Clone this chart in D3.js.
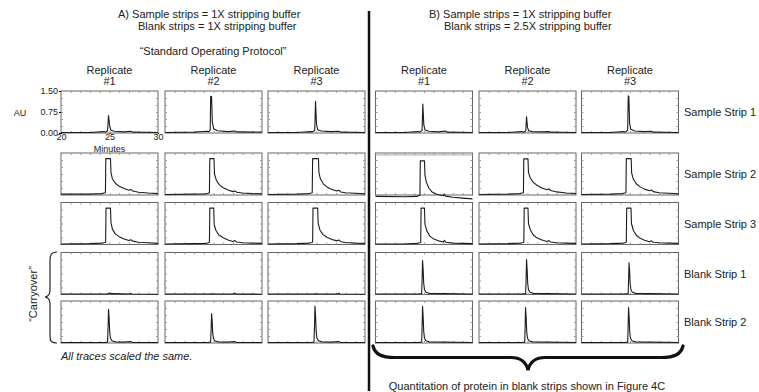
<!DOCTYPE html>
<html>
<head>
<meta charset="utf-8">
<script src="https://cdn.jsdelivr.net/npm/d3@7/dist/d3.min.js"></script>
<style>
body { margin: 0; background: #fff; }
svg { font-family: "Liberation Sans", Arial, sans-serif; }
</style>
</head>
<body>
<svg id="chart" width="759" height="392"></svg>
<script>
// labels
var replicates = ["#1", "#2", "#3"];
var stripNames = ["Sample Strip 1", "Sample Strip 2", "Sample Strip 3", "Blank Strip 1", "Blank Strip 2"];
var auTicks = [0, 0.75, 1.5];
var minuteTicks = [20, 25, 30];
var minorMinutes = [21, 22, 23, 24, 25, 26, 27, 28, 29];
var minorAU = [0.25, 0.5, 0.75, 1, 1.25];

// traces, [minutes, AU], one per replicate
var a_sample1 = [
	[[20,0.02],[23,0.02],[24.45,0.05],[24.6,0.03],[24.8,0.08],[24.9,0.62],[25.02,0.24],[25.15,0.1],[25.5,0.06],[26.5,0.04],[27.2,0.06],[27.4,0.03],[30,0.02]],
	[[20,0.02],[23,0.03],[24.35,0.06],[24.5,0.04],[24.66,0.1],[24.71,1.31],[24.8,1.3],[24.88,0.4],[25.02,0.15],[25.4,0.08],[26.5,0.05],[27.2,0.07],[27.4,0.04],[30,0.03]],
	[[20,0.02],[23,0.02],[24.45,0.05],[24.6,0.04],[24.82,0.1],[24.9,1.13],[25,0.32],[25.12,0.12],[25.5,0.07],[26.5,0.05],[27.3,0.06],[27.5,0.03],[30,0.02]]
];
var a_sample2 = [
	[[20,0.03],[23,0.03],[24.2,0.05],[24.45,0.07],[24.58,0.08],[24.62,1.3],[25.1,1.3],[25.15,0.8],[25.3,0.58],[25.6,0.42],[26,0.31],[26.5,0.23],[27,0.17],[27.2,0.2],[27.4,0.14],[28,0.1],[29,0.07],[30,0.05]],
	[[20,0.02],[23,0.03],[24.2,0.04],[24.45,0.06],[24.58,0.08],[24.62,1.3],[25.05,1.3],[25.1,0.75],[25.3,0.52],[25.6,0.36],[26,0.26],[26.5,0.18],[27,0.12],[27.2,0.14],[27.4,0.1],[28,0.07],[29,0.05],[30,0.04]],
	[[20,0.02],[23,0.03],[24.2,0.05],[24.45,0.07],[24.56,0.08],[24.6,1.3],[25.2,1.3],[25.25,0.8],[25.4,0.58],[25.7,0.4],[26.1,0.28],[26.6,0.2],[27.1,0.14],[27.3,0.17],[27.5,0.11],[28,0.08],[29,0.06],[30,0.04]]
];
var a_sample3 = [
	[[20,0.02],[23,0.03],[24.2,0.05],[24.5,0.07],[24.6,0.08],[24.64,1.3],[25.1,1.3],[25.15,0.78],[25.3,0.55],[25.6,0.38],[26,0.28],[26.5,0.2],[27,0.14],[27.2,0.17],[27.4,0.12],[28,0.08],[29,0.06],[30,0.04]],
	[[20,0.02],[23,0.03],[24.2,0.04],[24.45,0.06],[24.58,0.08],[24.62,1.3],[25.02,1.3],[25.07,0.72],[25.25,0.5],[25.55,0.34],[26,0.24],[26.5,0.16],[27,0.11],[27.2,0.14],[27.4,0.09],[28,0.06],[29,0.05],[30,0.04]],
	[[20,0.02],[23,0.03],[24.2,0.05],[24.5,0.07],[24.6,0.08],[24.64,1.3],[25.12,1.3],[25.17,0.76],[25.35,0.52],[25.65,0.36],[26.1,0.25],[26.6,0.18],[27.1,0.13],[27.3,0.16],[27.5,0.1],[28,0.07],[29,0.05],[30,0.04]]
];
var a_blank1 = [
	[[20,0.02],[24.8,0.02],[24.9,0.04],[25,0.05],[25.15,0.03],[27.1,0.02],[27.2,0.04],[27.3,0.02],[30,0.01]],
	[[20,0.02],[24.7,0.02],[24.8,0.03],[24.9,0.02],[27.1,0.02],[27.2,0.05],[27.3,0.02],[30,0.01]],
	[[20,0.02],[24.8,0.02],[24.9,0.03],[25,0.02],[27.2,0.02],[27.3,0.05],[27.4,0.02],[30,0.01]]
];
var a_blank2 = [
	[[20,0.02],[24.5,0.02],[24.8,0.03],[24.86,0.6],[24.9,1.2],[24.96,0.9],[25.02,0.4],[25.1,0.17],[25.25,0.08],[25.6,0.04],[26.5,0.03],[27.2,0.05],[27.35,0.02],[30,0.02]],
	[[20,0.02],[24.4,0.02],[24.7,0.03],[24.76,0.5],[24.8,1.05],[24.86,0.8],[24.92,0.35],[25,0.15],[25.15,0.07],[25.5,0.04],[26.5,0.03],[27.2,0.05],[27.35,0.02],[30,0.02]],
	[[20,0.02],[24.4,0.02],[24.74,0.03],[24.8,0.65],[24.84,1.32],[24.9,1],[24.96,0.45],[25.04,0.18],[25.2,0.08],[25.55,0.04],[26.5,0.03],[27.3,0.05],[27.45,0.02],[30,0.02]]
];
var b_sample1 = [
	[[20,0.02],[23,0.02],[24.4,0.05],[24.55,0.03],[24.8,0.09],[24.88,1.03],[24.98,0.3],[25.1,0.11],[25.5,0.06],[26.5,0.04],[27.2,0.07],[27.4,0.03],[30,0.02]],
	[[20,0.02],[23,0.02],[24.45,0.05],[24.6,0.03],[24.82,0.07],[24.9,0.58],[25,0.2],[25.12,0.08],[25.5,0.05],[26.5,0.04],[27.2,0.05],[27.4,0.03],[30,0.02]],
	[[20,0.02],[23,0.02],[24.35,0.05],[24.5,0.03],[24.76,0.1],[24.82,1.33],[24.88,1.3],[24.96,0.35],[25.08,0.13],[25.5,0.07],[26.5,0.05],[27.2,0.06],[27.4,0.03],[30,0.02]]
];
var b_sample2 = [
	[[20,-0.05],[23,-0.06],[24.3,-0.05],[24.5,-0.02],[24.58,-0.01],[24.62,1.22],[25.05,1.22],[25.1,0.7],[25.25,0.45],[25.5,0.25],[25.8,0.12],[26.3,0.03],[27,-0.03],[27.1,0.03],[27.2,-0.04],[28,-0.08],[29,-0.11],[30,-0.14]],
	[[20,0.02],[23,0.03],[24.2,0.05],[24.45,0.07],[24.58,0.08],[24.62,1.29],[25.05,1.29],[25.1,0.8],[25.3,0.6],[25.6,0.45],[26,0.34],[26.5,0.25],[27,0.19],[27.2,0.22],[27.4,0.16],[28,0.11],[29,0.07],[30,0.05]],
	[[20,0.02],[23,0.03],[24.2,0.05],[24.45,0.07],[24.58,0.08],[24.62,1.3],[25.12,1.3],[25.17,0.78],[25.35,0.56],[25.65,0.4],[26.05,0.29],[26.5,0.21],[27,0.15],[27.2,0.18],[27.4,0.12],[28,0.08],[29,0.06],[30,0.04]]
];
var b_sample3 = [
	[[20,0.02],[23,0.02],[24.3,0.04],[24.55,0.06],[24.66,0.07],[24.7,1.3],[25.05,1.3],[25.1,0.72],[25.3,0.48],[25.6,0.3],[26,0.2],[26.5,0.13],[27,0.09],[27.1,0.15],[27.25,0.08],[28,0.05],[29,0.04],[30,0.03]],
	[[20,0.02],[23,0.03],[24.3,0.05],[24.55,0.07],[24.62,0.08],[24.66,1.3],[25.05,1.3],[25.1,0.75],[25.3,0.52],[25.6,0.34],[26,0.23],[26.5,0.16],[27,0.11],[27.2,0.14],[27.4,0.09],[28,0.06],[29,0.05],[30,0.04]],
	[[20,0.02],[23,0.03],[24.3,0.05],[24.55,0.07],[24.62,0.08],[24.66,1.3],[25.1,1.3],[25.15,0.75],[25.35,0.5],[25.65,0.33],[26.05,0.22],[26.5,0.15],[27,0.1],[27.2,0.13],[27.4,0.08],[28,0.06],[29,0.05],[30,0.04]]
];
var b_blank1 = [
	[[20,0.02],[24.4,0.02],[24.76,0.03],[24.81,0.6],[24.85,1.21],[24.91,0.9],[24.97,0.4],[25.05,0.17],[25.2,0.08],[25.55,0.04],[27,0.03],[30,0.02]],
	[[20,0.02],[24.4,0.02],[24.81,0.03],[24.86,0.62],[24.9,1.25],[24.96,0.92],[25.02,0.4],[25.1,0.17],[25.25,0.08],[25.6,0.04],[27,0.03],[30,0.02]],
	[[20,0.02],[24.4,0.02],[24.81,0.03],[24.86,0.56],[24.9,1.13],[24.96,0.84],[25.02,0.37],[25.1,0.16],[25.25,0.08],[25.6,0.04],[27,0.03],[30,0.02]]
];
var b_blank2 = [
	[[20,0.02],[24.4,0.02],[24.76,0.03],[24.81,0.65],[24.85,1.31],[24.91,0.95],[24.97,0.42],[25.05,0.18],[25.2,0.08],[25.55,0.04],[27,0.03],[30,0.02]],
	[[20,0.02],[24.4,0.02],[24.71,0.03],[24.76,0.63],[24.8,1.27],[24.86,0.93],[24.92,0.4],[25,0.17],[25.15,0.08],[25.5,0.04],[27,0.03],[30,0.02]],
	[[20,0.02],[24.4,0.02],[24.76,0.03],[24.81,0.63],[24.85,1.27],[24.91,0.93],[24.97,0.4],[25.05,0.17],[25.2,0.08],[25.55,0.04],[27,0.03],[30,0.02]]
];

var groupA = [a_sample1, a_sample2, a_sample3, a_blank1, a_blank2];
var groupB = [b_sample1, b_sample2, b_sample3, b_blank1, b_blank2];

// layout
var rowTop = [91, 153, 202.5, 252.5, 301];
var colA = [61, 165, 268];
var colB = [375.5, 479, 581.5];
var panelW = 97, panelH = 42;

var svg = d3.select("#chart");

var x = d3.scaleLinear().domain([20, 30]).range([0, panelW]);
var y = d3.scaleLinear().domain([0, 1.5]).range([panelH, 0]);
var trace = d3.line().x(function(d) { return x(d[0]); }).y(function(d) { return y(d[1]); });

function add_text(txt, px, py, opts) {
	opts = opts || {};
	return svg.append("text")
		.attr("x", px).attr("y", py)
		.attr("font-size", opts.size || 11)
		.attr("text-anchor", opts.anchor || "start")
		.attr("font-style", opts.style || null)
		.attr("fill", "#222")
		.text(txt);
}

function minor_ticks(g) {
	g.append("g").call(d3.axisTop(x).tickValues(minorMinutes).tickSize(-2).tickFormat(""));
	g.append("g").attr("transform", "translate(0," + panelH + ")")
		.call(d3.axisBottom(x).tickValues(minorMinutes).tickSize(-2).tickFormat(""));
	g.append("g").call(d3.axisLeft(y).tickValues(minorAU).tickSize(-2).tickFormat(""));
	g.append("g").attr("transform", "translate(" + panelW + ",0)")
		.call(d3.axisRight(y).tickValues(minorAU).tickSize(-2).tickFormat(""));
	g.selectAll(".domain").remove();
	g.selectAll(".tick line").attr("stroke", "#999");
}

function draw_panel(px, py, data, odd) {
	var g = svg.append("g").attr("transform", "translate(" + px + "," + py + ")");
	g.append("rect")
		.attr("width", panelW).attr("height", panelH)
		.attr("fill", "none").attr("stroke", "#666").attr("stroke-width", 1);
	minor_ticks(g);
	if (odd) {
		g.append("line").attr("x1", 0).attr("x2", panelW)
			.attr("y1", y(1.43)).attr("y2", y(1.43))
			.attr("stroke", "#aaa").attr("stroke-width", 1);
	}
	g.append("path")
		.attr("d", trace(data))
		.attr("fill", "none").attr("stroke", "#1c1c1c")
		.attr("stroke-width", 1.1).attr("stroke-linejoin", "round");
	return g;
}

function draw_group(group, cols) {
	group.forEach(function(row, r) {
		row.forEach(function(data, c) {
			draw_panel(cols[c], rowTop[r], data, group === groupB && r === 1 && c === 0);
		});
	});
	cols.forEach(function(cx, c) {
		add_text("Replicate", cx + panelW / 2, 73.5, {anchor: "middle"});
		add_text(replicates[c], cx + panelW / 2, 85, {anchor: "middle"});
	});
}

draw_group(groupA, colA);
draw_group(groupB, colB);

// axes on first panel
var first = svg.append("g").attr("transform", "translate(" + colA[0] + "," + rowTop[0] + ")");
first.append("g")
	.call(d3.axisLeft(y).tickValues(auTicks).tickSize(2).tickPadding(1).tickFormat(d3.format(".2f")));
first.append("g").attr("transform", "translate(0," + panelH + ")")
	.call(d3.axisBottom(x).tickValues(minuteTicks).tickSize(1).tickPadding(0).tickFormat(d3.format("d")));
first.selectAll(".domain").remove();
first.selectAll("text").attr("font-size", 9).attr("fill", "#222").attr("font-family", null);
add_text("AU", 20, 116, {anchor: "middle", size: 9});
add_text("Minutes", colA[0] + panelW / 2, 151.5, {anchor: "middle", size: 9});

// titles
add_text("A) Sample strips = 1X stripping buffer", 118, 18);
add_text("Blank strips = 1X stripping buffer", 138, 29.5);
add_text("\u201cStandard Operating Protocol\u201d", 213, 55, {anchor: "middle"});
add_text("B) Sample strips = 1X stripping buffer", 429, 18);
add_text("Blank strips = 2.5X stripping buffer", 444, 29.5);

// row labels
stripNames.forEach(function(name, r) {
	add_text(name, 684, rowTop[r] + panelH / 2 + 4);
});

// divider
svg.append("line").attr("x1", 369).attr("x2", 369).attr("y1", 11).attr("y2", 391)
	.attr("stroke", "#111").attr("stroke-width", 2.5);

// carryover brace
svg.append("path")
	.attr("d", "M57,252 C51,252 50,255 50,261 L50,290 C50,295 48,296.5 45,297 C48,297.5 50,299 50,304 L50,336 C50,341 51,343 57,343")
	.attr("fill", "none").attr("stroke", "#222").attr("stroke-width", 1.2);
add_text("\u201cCarryover\u201d", 0, 0, {anchor: "middle"})
	.attr("transform", "translate(37,294) rotate(-90)");

add_text("All traces scaled the same.", 61, 360, {style: "italic"});

// bottom brace
svg.append("path")
	.attr("d", "M373,346 C375,354 381,357.5 395,357.5 L511,357.5 C521,357.5 526,362 528,370 C530,362 535,357.5 545,357.5 L661,357.5 C675,357.5 681,354 683,346")
	.attr("fill", "none").attr("stroke", "#111").attr("stroke-width", 3.2).attr("stroke-linecap", "round");
add_text("Quantitation of protein in blank strips shown in Figure 4C", 527, 390, {anchor: "middle"});
</script>
</body>
</html>
